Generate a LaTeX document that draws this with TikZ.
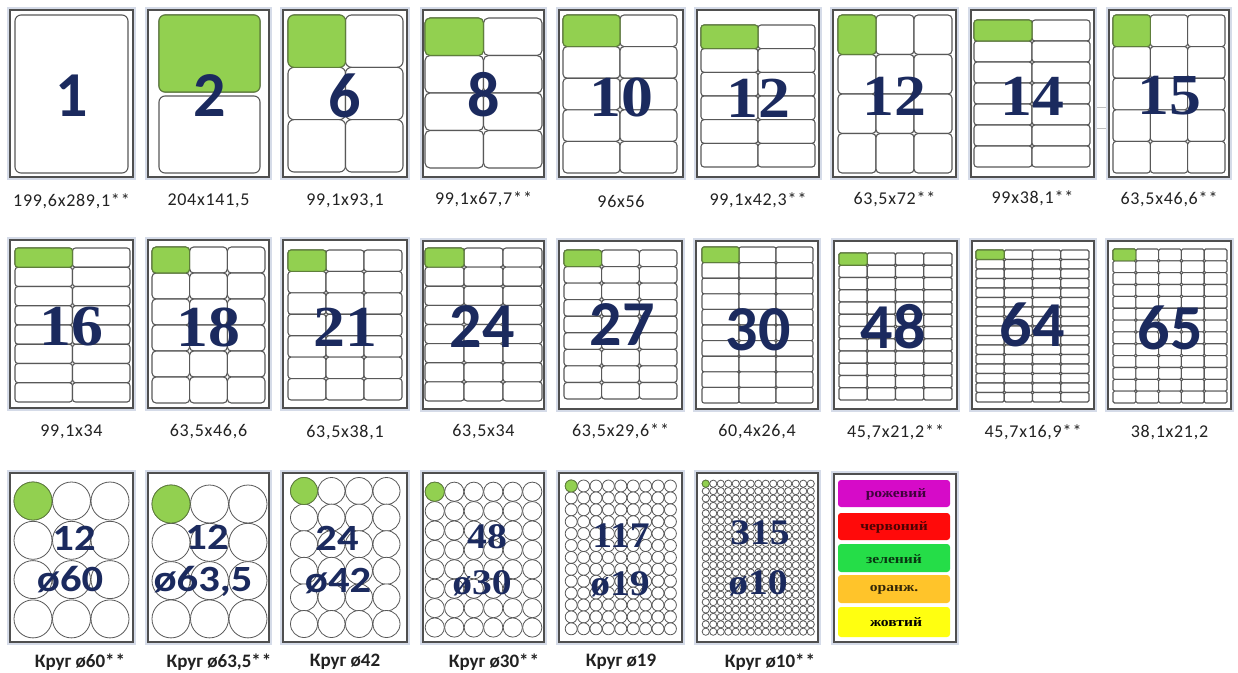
\documentclass[tikz,border=0pt]{standalone}
\usepackage{fontspec}
\setmainfont{Carlito}
\newfontfamily\labf{Carlito}[LetterSpace=4]
\newfontfamily\clabf{Carlito}
\newfontfamily\snum{Carlito}
\newfontfamily\snumw{Carlito}[FakeStretch=1.15]
\newfontfamily\rnum{Liberation Serif}[FakeStretch=1.1]
\newfontfamily\legf{Liberation Serif}[FakeStretch=1.2]
\definecolor{navy}{HTML}{1B2A5E}
\definecolor{lgreen}{HTML}{92D050}
\definecolor{dgreen}{HTML}{5E7F3A}
\definecolor{sheetc}{HTML}{4F4F4F}
\definecolor{shadowc}{HTML}{D5DBE8}
\definecolor{labc}{HTML}{585858}
\definecolor{txtc}{HTML}{222222}
\definecolor{cmag}{HTML}{D60BC8}
\definecolor{cred}{HTML}{FF0A0A}
\definecolor{cgrn}{HTML}{25DD48}
\definecolor{corg}{HTML}{FFC42A}
\definecolor{cyel}{HTML}{FFFF10}
\tikzset{
 sheet/.style={draw=sheetc, line width=2.2pt, fill=white, preaction={draw=shadowc, line width=6pt}},
 labelbox/.style={draw=labc, line width=1.1pt, fill=white},
 circbox/.style={draw=labc, line width=0.8pt, fill=white},
 numS/.style={inner sep=0pt, text=navy, font=\snum\bfseries\fontsize{64}{64}\selectfont},
 numR/.style={inner sep=0pt, text=navy, font=\rnum\bfseries\fontsize{58}{58}\selectfont},
 cnumS/.style={inner sep=0pt, text=navy, font=\snumw\bfseries\fontsize{37}{37}\selectfont},
 cnumR/.style={inner sep=0pt, text=navy, font=\rnum\bfseries\fontsize{36}{36}\selectfont},
 sizelab/.style={inner sep=0pt, text=txtc, font=\labf\fontsize{18}{18}\selectfont},
 circlab/.style={inner sep=0pt, text=txtc, font=\clabf\bfseries\fontsize{19}{19}\selectfont},
 legbar/.style={rounded corners=3pt, draw=none},
 legtxt/.style={inner sep=0pt, font=\legf\bfseries\fontsize{13}{13}\selectfont},
}
\newcommand\stars{\rlap{*\kern1pt*}}
\newcommand\lgrid[8]{%
 \pgfmathsetmacro\lcw{(#3-#1)/#5}%
 \pgfmathsetmacro\lrh{(#4-#2)/#6}%
 \foreach \ii in {1,...,#5}{\foreach \jj in {1,...,#6}{%
   \pgfmathsetmacro\xa{#1+(\ii-1)*\lcw+#8/2}%
   \pgfmathsetmacro\ya{#2+(\jj-1)*\lrh+#8/2}%
   \pgfmathsetmacro\xb{#1+\ii*\lcw-#8/2}%
   \pgfmathsetmacro\yb{#2+\jj*\lrh-#8/2}%
   \draw[labelbox, rounded corners=#7pt] (\xa,\ya) rectangle (\xb,\yb);
 }}%
 \pgfmathsetmacro\xb{#1+\lcw-#8/2}%
 \pgfmathsetmacro\yb{#2+\lrh-#8/2}%
 \draw[labelbox, rounded corners=#7pt, fill=lgreen, draw=dgreen] ({#1+#8/2},{#2+#8/2}) rectangle (\xb,\yb);
}
\newcommand\cgrid[7]{%
 \foreach \ii in {1,...,#5}{\foreach \jj in {1,...,#6}{%
   \draw[circbox] ({#1+(\ii-1)*#3},{#2+(\jj-1)*#4}) circle[radius=#7pt];
 }}%
 \draw[circbox, fill=lgreen, draw=dgreen] (#1,#2) circle[radius=#7pt];
}
\begin{document}
\begin{tikzpicture}[x=1pt,y=-1pt]
\useasboundingbox[fill=white] (0,0) rectangle (1238,672);
% faint lines between sheets
\draw[gray!50, line width=0.8pt] (1094,107) -- (1109,107) (1094,128) -- (1109,128);
% ---------- Row 1 ----------
\draw[sheet] (10,10) rectangle (133,177);
\draw[labelbox, rounded corners=6pt] (15,15) rectangle (128,173);
\draw[sheet] (148,10) rectangle (269,177);
\lgrid{157}{13}{262}{175}{1}{2}{6}{4}
\draw[sheet] (283,10) rectangle (407,177);
\lgrid{288}{15}{403}{172}{2}{3}{6}{0}
\draw[sheet] (423,10) rectangle (544,177);
\lgrid{425}{18}{542}{168}{2}{4}{5}{0}
\draw[sheet] (559,10) rectangle (683,177);
\lgrid{563}{15}{677}{173}{2}{5}{4}{0}
\draw[sheet] (697,10) rectangle (819,177);
\lgrid{701}{25}{815}{167}{2}{6}{3}{0}
\draw[sheet] (833,10) rectangle (956,177);
\lgrid{838}{15}{952}{173}{3}{4}{4}{0}
\draw[sheet] (971,10) rectangle (1094,177);
\lgrid{974}{20}{1090}{167}{2}{7}{3}{0}
\draw[sheet] (1109,10) rectangle (1229,177);
\lgrid{1113}{15}{1225}{173}{3}{5}{3}{0}
\node[numS] (n1) at (71.5,96) {1};
\node[numS] (n2) at (210,96) {2};
\node[numS] (n3) at (345,96) {6};
\node[numS] (n4) at (483.5,95) {8};
\node[numR] (n5) at (621,97) {10};
\node[numR] (n6) at (758,98) {12};
\node[numR] (n7) at (894.5,96) {12};
\node[numR] (n8) at (1032.5,96) {14};
\node[numR] (n9) at (1169,96) {15};
\node[sizelab] (s1) at (71.5,201) {199,6x289,1*\kern1pt*};
\node[sizelab] (s2) at (208.5,201) {204x141,5};
\node[sizelab] (s3) at (345,201) {99,1x93,1};
\node[sizelab] (s4) at (483.5,199) {99,1x67,7*\kern1pt*};
\node[sizelab] (s5) at (621,201) {96x56};
\node[sizelab] (s6) at (758,200) {99,1x42,3*\kern1pt*};
\node[sizelab] (s7) at (894.5,199) {63,5x72*\kern1pt*};
\node[sizelab] (s8) at (1032.5,198) {99x38,1*\kern1pt*};
\node[sizelab] (s9) at (1169,199) {63,5x46,6*\kern1pt*};
% ---------- Row 2 ----------
\draw[sheet] (10,240) rectangle (133,408);
\lgrid{15}{248}{130}{402}{2}{8}{3}{0}
\draw[sheet] (148,240) rectangle (269,408);
\lgrid{152}{247}{265}{403}{3}{6}{4}{0}
\draw[sheet] (283,240) rectangle (407,408);
\lgrid{288}{250}{402}{400}{3}{7}{3}{0}
\draw[sheet] (423,241) rectangle (544,409);
\lgrid{425}{248}{542}{401}{3}{8}{3}{0}
\draw[sheet] (559,241) rectangle (682,409);
\lgrid{564}{250}{677}{399}{3}{9}{3}{0}
\draw[sheet] (696,241) rectangle (818,409);
\lgrid{702}{247}{813}{403}{3}{10}{2}{0}
\draw[sheet] (834,241) rectangle (957,409);
\lgrid{839}{253}{952}{400}{4}{12}{1.5}{0}
\draw[sheet] (972,241) rectangle (1094,409);
\lgrid{976}{250}{1089}{402}{4}{16}{1.5}{0}
\draw[sheet] (1108,241) rectangle (1231,409);
\lgrid{1113}{249}{1227}{403}{5}{13}{1.5}{0}
\node[numR] (m1) at (71.5,327) {16};
\node[numR] (m2) at (208,327) {18};
\node[numR] (m3) at (345,327) {21};
\node[numS] (m4) at (482,327) {24};
\node[numS] (m5) at (622,325) {27};
\node[numS] (m6) at (758,330) {30};
\node[numS] (m7) at (893,327) {48};
\node[numS] (m8) at (1032,325) {64};
\node[numS] (m9) at (1170,328) {65};
\node[sizelab] (t1) at (71.5,432) {99,1x34};
\node[sizelab] (t2) at (208.5,432) {63,5x46,6};
\node[sizelab] (t3) at (345,432) {63,5x38,1};
\node[sizelab] (t4) at (483.5,432) {63,5x34};
\node[sizelab] (t5) at (620.5,431) {63,5x29,6*\kern1pt*};
\node[sizelab] (t6) at (757,432) {60,4x26,4};
\node[sizelab] (t7) at (895.5,432) {45,7x21,2*\kern1pt*};
\node[sizelab] (t8) at (1033,432) {45,7x16,9*\kern1pt*};
\node[sizelab] (t9) at (1169.5,432) {38,1x21,2};
% ---------- Row 3 ----------
\draw[sheet] (10,473) rectangle (133,642);
\cgrid{33}{501}{38.5}{39.3}{3}{4}{19}
\draw[sheet] (148,473) rectangle (269,642);
\cgrid{171}{504}{38.5}{38.3}{3}{4}{19}
\draw[sheet] (283,473) rectangle (407,642);
\cgrid{304}{491}{27.5}{26.6}{4}{6}{13.5}
\draw[sheet] (423,473) rectangle (544,642);
\cgrid{434.75}{491.7}{19.5}{19.4}{6}{8}{9.6}
\draw[sheet] (559,473) rectangle (682,642);
\cgrid{571.2}{486}{12.4}{11.9}{9}{13}{6}
\draw[sheet] (697,473) rectangle (818,642);
\cgrid{705.75}{483.7}{7.5}{7.4}{15}{21}{3.6}
\node[cnumS] (k1) at (74,538) {12};
\node[cnumS] (d1) at (70,580) {ø60};
\node[cnumS] (k2) at (207,537) {12};
\node[cnumS] (d2) at (203,581) {ø63,5};
\node[cnumS] (k3) at (337,538) {24};
\node[cnumS] (d3) at (338,581) {ø42};
\node[cnumR] (k4) at (487,537) {48};
\node[cnumR] (d4) at (482,583) {ø30};
\node[cnumR] (k5) at (621,536) {117};
\node[cnumR] (d5) at (620,584) {ø19};
\node[cnumR] (k6) at (760,533) {315};
\node[cnumR] (d6) at (758,583) {ø10};
\node[circlab] (u1) at (70,662) {Круг ø60\stars};
\node[circlab] (u2) at (209,662) {Круг ø63,5\stars};
\node[circlab] (u3) at (345,662) {Круг ø42};
\node[circlab] (u4) at (484,662) {Круг ø30\stars};
\node[circlab] (u5) at (621,662) {Круг ø19};
\node[circlab] (u6) at (760,662) {Круг ø10\stars};
% ---------- Legend ----------
\draw[sheet] (834,474) rectangle (956,642);
\fill[legbar, cmag] (838,480) rectangle (950,507);
\fill[legbar, cred] (838,513) rectangle (950,540);
\fill[legbar, cgrn] (838,544) rectangle (950,572);
\fill[legbar, corg] (838,575) rectangle (950,603);
\fill[legbar, cyel] (838,607) rectangle (950,637);
\node[legtxt, text=black!70!cmag] (c1) at (896,494) {рожевий};
\node[legtxt, text=black!70!cred] (c2) at (894,527) {червоний};
\node[legtxt, text=black!75!cgrn] (c3) at (894,559) {зелений};
\node[legtxt, text=black!80!corg] (c4) at (894,590) {оранж.};
\node[legtxt, text=black] (c5) at (896,622) {жовтий};
\end{tikzpicture}
\end{document}
